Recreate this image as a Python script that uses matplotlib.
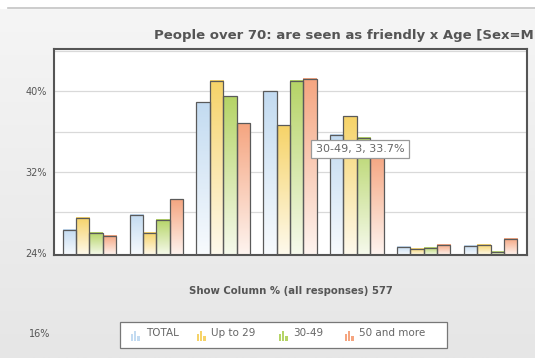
import numpy as np
import matplotlib
matplotlib.use("Agg")
import matplotlib.pyplot as plt
from matplotlib.patches import Rectangle
from matplotlib.colors import to_rgb

# ---- data ----
categories = ["1", "2", "3", "4", "5", "6", "7"]
series_names = ["TOTAL", "Up to 29", "30-49", "50 and more"]
total = [26.3, 27.8, 38.9, 40.0, 35.7, 24.6, 24.7]
up_to_29 = [27.5, 26.0, 41.0, 36.6, 37.5, 24.4, 24.8]
age_30_49 = [26.0, 27.3, 39.5, 41.0, 35.4, 24.5, 24.1]
age_50_more = [25.7, 29.3, 36.8, 41.2, 33.7, 24.8, 25.4]
y_ticks = [24, 32, 40]
y_tick_labels = ["24%", "32%", "40%"]

series = [total, up_to_29, age_30_49, age_50_more]
colors = ["#c3dbf1", "#f6d368", "#b5d466", "#f5a580"]

W, H = 535, 358
fig = plt.figure(figsize=(W / 100, H / 100), dpi=100)

def fx(px):
    return px / W

def fy(py):
    return 1 - py / H

# background
bg = fig.add_axes([0, 0, 1, 1], zorder=-10)
bg.set_axis_off()
grad = np.linspace(0, 1, 256)[:, None]
c_top = np.array(to_rgb("#f5f5f5"))
c_bot = np.array(to_rgb("#e6e6e6"))
img = c_top[None, None, :] * (1 - grad[..., None]) + c_bot[None, None, :] * grad[..., None]
bg.imshow(img, extent=[0, 1, 0, fy(8)], aspect="auto", origin="upper")
bg.add_patch(Rectangle((0, fy(8)), 1, 1 - fy(8), color="white"))
bg.plot([fx(8), 1], [fy(7.5), fy(7.5)], color="#c4c4c4", lw=1.2)
bg.set_xlim(0, 1)
bg.set_ylim(0, 1)

# main axes
left, right, top, bottom = 54, 527, 49, 255
ax = fig.add_axes([fx(left), fy(bottom), fx(right - left), fy(top) - fy(bottom)])
ymin, ymax = 23.8, 44.15
ax.set_facecolor("white")
for g in [28, 32, 36, 40, 44]:
    ax.axhline(g, color="#d9d9d9", lw=0.9, zorder=0)

n = len(series)
bw = 0.2
x = np.arange(len(categories))
for i, (vals, col) in enumerate(zip(series, colors)):
    xs = x + (i - (n - 1) / 2) * bw
    top_c = np.array(to_rgb(col))
    bot_c = top_c + (1 - top_c) * 0.88
    g = np.linspace(0, 1, 128)[:, None, None]
    gimg = top_c[None, None, :] * (1 - g) + bot_c[None, None, :] * g
    for xi, v in zip(xs, vals):
        ax.imshow(gimg, extent=[xi - bw / 2, xi + bw / 2, ymin, v],
                  aspect="auto", origin="upper", zorder=2, interpolation="bilinear")
    ax.bar(xs, np.array(vals) - ymin, bottom=ymin, width=bw, fill=False,
           edgecolor="#5a5a5a", lw=0.9, zorder=3)

ax.set_xlim(-0.531, 6.546)
ax.set_ylim(ymin, ymax)
ax.set_xticks([])
ax.set_yticks(y_ticks)
ax.set_yticklabels(y_tick_labels, fontsize=7, color="#555555")
ax.tick_params(axis="y", length=0, pad=5)
for s in ax.spines.values():
    s.set_color("#555555")
    s.set_linewidth(1.5)

# stray 16% label
fig.text(fx(50), fy(334), "16%", ha="right", va="center", fontsize=7, color="#555555")

# title (as visible in the reference, which truncates it at the right edge)
fig.text(fx(534), fy(36), "People over 70: are seen as friendly x Age [Sex=M",
         ha="right", va="center", fontsize=9.5, fontweight="bold", color="#555555")

# x-axis title
fig.text(fx(291), fy(291), "Show Column % (all responses) 577",
         ha="center", va="center", fontsize=7.3, fontweight="bold", color="#555555")

# tooltip
fig.text(fx(360), fy(149), "30-49, 3, 33.7%", ha="center", va="center",
         fontsize=8, color="#666666", zorder=20,
         bbox=dict(boxstyle="square,pad=0.4", fc="white", ec="#999999", lw=0.9))

# legend box
bg.add_patch(Rectangle((fx(120), fy(348)), fx(447 - 120), fy(322) - fy(348),
                       fc="white", ec="#777777", lw=0.9, zorder=5))
leg_items = [(131, 146), (197, 211), (279, 293), (345, 359)]
for (ix, tx), name, col in zip(leg_items, series_names, colors):
    for k, hgt in enumerate([7, 10, 5]):
        bg.add_patch(Rectangle((fx(ix + k * 3.2), fy(341)), fx(2.2), fy(341 - hgt) - fy(341),
                               fc=col, ec="none", zorder=6))
    fig.text(fx(tx), fy(333), name, ha="left", va="center", fontsize=7.5, color="#666666")

fig.savefig("out.png", dpi=100)
